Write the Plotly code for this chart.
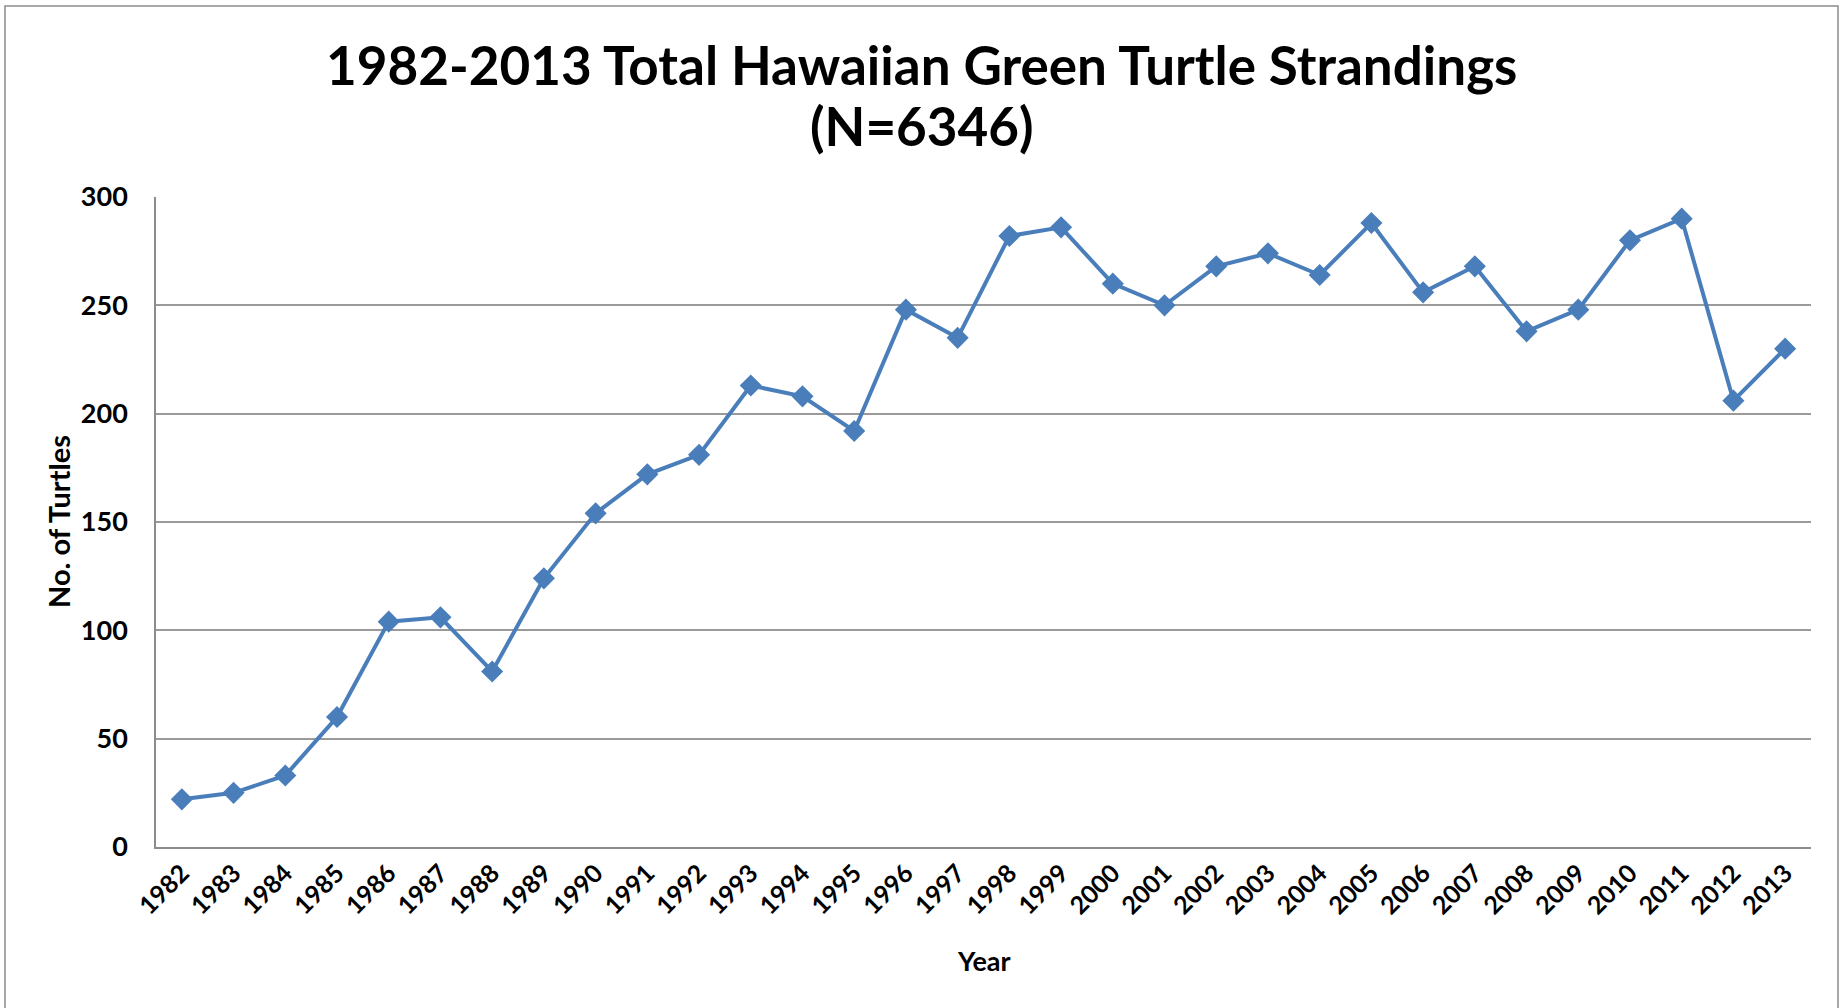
import plotly.graph_objects as go

years = [str(y) for y in range(1982, 2014)]
turtles = [22, 25, 33, 60, 104, 106, 81, 124, 154, 172, 181, 213, 208, 192, 248, 235,
           282, 286, 260, 250, 268, 274, 264, 288, 256, 268, 238, 248, 280, 290, 206, 230]
y_ticks = [0, 50, 100, 150, 200, 250, 300]

title_line1 = "1982-2013 Total Hawaiian Green Turtle Strandings"
title_line2 = "(N=6346)"
x_title = "Year"
y_title = "No. of Turtles"

FONT = "Lato"
W, H = 1843, 1008
L, R, T, B = 156, 32, 197, 161
pw, ph = W - L - R, H - T - B

fig = go.Figure()
fig.add_trace(go.Scatter(
    x=years, y=turtles, mode="lines+markers",
    line=dict(color="#4A7EBB", width=4),
    marker=dict(symbol="diamond", size=17, color="#4A7EBB"),
    showlegend=False,
))

def px(xp):
    return (xp - L) / pw

def py(yp):
    return (H - B - yp) / ph

fig.update_layout(
    width=W, height=H,
    margin=dict(l=L, r=R, t=T, b=B, autoexpand=False),
    paper_bgcolor="white", plot_bgcolor="white",
    font=dict(family=FONT, color="black"),
    xaxis=dict(
        type="category", tickangle=-45, range=[-0.5, len(years) - 0.5],
        tickfont=dict(family=FONT, size=25, color="black", weight="bold"),
        showgrid=False, showline=True, linecolor="#8c8c8c", linewidth=1.5,
        ticks="", zeroline=False, automargin=False,
    ),
    yaxis=dict(
        range=[0, 300], tickvals=y_ticks,
        tickfont=dict(family=FONT, size=27, color="black", weight="bold"),
        showgrid=True, gridcolor="#9a9a9a", gridwidth=1.5,
        showline=True, linecolor="#8c8c8c", linewidth=1.5,
        ticks="", ticklabelstandoff=21, zeroline=False, automargin=False,
    ),
    shapes=[dict(
        type="rect", xref="paper", yref="paper",
        x0=px(5), x1=px(1838), y0=py(1030), y1=py(6),
        line=dict(color="#8c8c8c", width=1.5), fillcolor="rgba(0,0,0,0)",
        layer="below",
    )],
    annotations=[
        dict(text="<b>" + title_line1 + "</b>", xref="paper", yref="paper",
             x=px(W / 2), y=py(65), showarrow=False, xanchor="center", yanchor="middle",
             font=dict(family=FONT, size=53, color="black")),
        dict(text="<b>" + title_line2 + "</b>", xref="paper", yref="paper",
             x=px(W / 2), y=py(126), showarrow=False, xanchor="center", yanchor="middle",
             font=dict(family=FONT, size=53, color="black")),
        dict(text="<b>" + x_title + "</b>", xref="paper", yref="paper",
             x=px(984), y=py(960), showarrow=False, xanchor="center", yanchor="middle",
             font=dict(family=FONT, size=27, color="black")),
        dict(text="<b>" + y_title + "</b>", xref="paper", yref="paper",
             x=px(58), y=py(522), showarrow=False, xanchor="center", yanchor="middle",
             textangle=-90, font=dict(family=FONT, size=29, color="black")),
    ],
)

fig.write_html("out.html", config={"displayModeBar": False},
               post_script="document.body.style.margin='0';")
